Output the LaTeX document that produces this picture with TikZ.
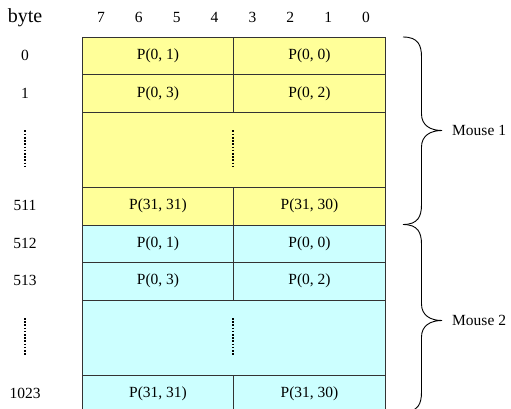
\documentclass[tikz,border=0pt]{standalone}
\usepackage{fontspec}
\setmainfont{Liberation Serif}
\definecolor{memyellow}{HTML}{FFFF99}
\definecolor{memcyan}{HTML}{CCFFFF}
\definecolor{memline}{HTML}{333333}
\begin{document}
\begin{tikzpicture}[x=1pt,y=-1pt,
  txt/.style={font=\fontsize{15.5}{18}\selectfont, inner sep=0pt},
  cellbase/.style={txt, draw=memline, line width=1pt, minimum height=37.5pt, anchor=north west},
  ycell/.style={cellbase, fill=memyellow},
  ccell/.style={cellbase, fill=memcyan},
  lw/.style={minimum width=151pt},
  rw/.style={minimum width=152pt},
  fw/.style={minimum width=303pt, minimum height=75pt},
  dotline/.style={line width=1.6pt, dash pattern=on 1.6pt off 1.6pt},
  bracestyle/.style={line width=0.9pt, draw=black}]
\useasboundingbox (0,0) rectangle (511,409);
% header
\node[txt, font=\fontsize{20}{24}\selectfont, anchor=base] (hb) at (25,22.5) {byte};
\foreach \i/\b in {0/7,1/6,2/5,3/4,4/3,5/2,6/1,7/0}{
  \node[txt, anchor=base] (h\b) at ({82+37.875*(\i+0.5)},22.5) {\b};
}
% Mouse 1 cells
\node[ycell, lw] (a0) at (82,37) {P(0, 1)};
\node[ycell, rw] (b0) at (233,37) {P(0, 0)};
\node[ycell, lw] (a1) at (82,74.5) {P(0, 3)};
\node[ycell, rw] (b1) at (233,74.5) {P(0, 2)};
\node[ycell, fw] (d1) at (82,112) {};
\node[ycell, lw] (a511) at (82,187) {P(31, 31)};
\node[ycell, rw] (b511) at (233,187) {P(31, 30)};
% Mouse 2 cells
\node[ccell, lw] (a512) at (82,224.5) {P(0, 1)};
\node[ccell, rw] (b512) at (233,224.5) {P(0, 0)};
\node[ccell, lw] (a513) at (82,262) {P(0, 3)};
\node[ccell, rw] (b513) at (233,262) {P(0, 2)};
\node[ccell, fw] (d2) at (82,299.5) {};
\node[ccell, lw] (a1023) at (82,374.5) {P(31, 31)};
\node[ccell, rw] (b1023) at (233,374.5) {P(31, 30)};
% row labels
\node[txt] (r0) at (25,55.75) {0};
\node[txt] (r1) at (25,93.25) {1};
\node[txt] (r511) at (25,205.75) {511};
\node[txt] (r512) at (25,243.25) {512};
\node[txt] (r513) at (25,280.75) {513};
\node[txt] (r1023) at (25,393.25) {1023};
% dotted lines
\draw[dotline] (25,130.5) -- (25,167);
\draw[dotline] (233,130.5) -- (233,167);
\draw[dotline] (25,318) -- (25,355);
\draw[dotline] (233,318) -- (233,355);
% braces
\draw[bracestyle] (403,37) .. controls (418,37) and (421.5,45) .. (421.5,57)
  -- (421.5,114) .. controls (421.5,125) and (430,130.5) .. (442,130.5)
  .. controls (430,130.5) and (421.5,136) .. (421.5,147)
  -- (421.5,204.5) .. controls (421.5,216.5) and (418,224.5) .. (403,224.5);
\draw[bracestyle] (403,224.5) .. controls (418,224.5) and (421.5,232.5) .. (421.5,244.5)
  -- (421.5,304) .. controls (421.5,315) and (430,320.5) .. (442,320.5)
  .. controls (430,320.5) and (421.5,326) .. (421.5,337)
  -- (421.5,392) .. controls (421.5,404) and (418,412) .. (403,412);
\node[txt, anchor=west] (m1) at (452,130.5) {Mouse 1};
\node[txt, anchor=west] (m2) at (452,320.5) {Mouse 2};
\end{tikzpicture}
\end{document}
